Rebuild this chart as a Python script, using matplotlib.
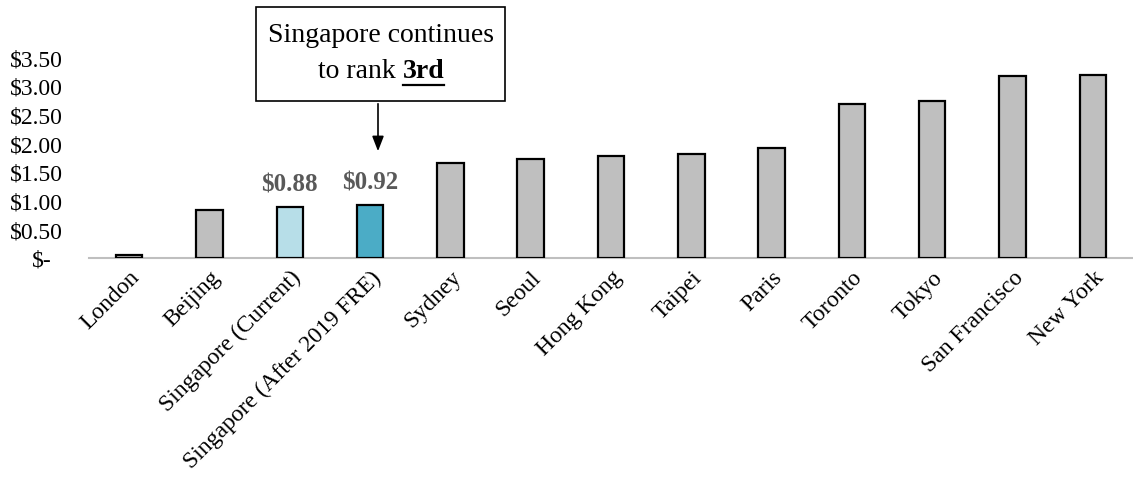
import matplotlib
matplotlib.use("Agg")
import matplotlib.pyplot as plt
import matplotlib.transforms as mtransforms
from matplotlib.patches import Rectangle
from matplotlib.ticker import FuncFormatter

cities = ["London", "Beijing", "Singapore (Current)", "Singapore (After 2019 FRE)",
          "Sydney", "Seoul", "Hong Kong", "Taipei", "Paris", "Toronto", "Tokyo",
          "San Francisco", "New York"]
fares = [0.05, 0.84, 0.88, 0.92, 1.65, 1.72, 1.78, 1.81, 1.92, 2.68, 2.73, 3.17, 3.19]
bar_colors = ["#BFBFBF", "#BFBFBF", "#B7DEE8", "#4BACC6"] + ["#BFBFBF"] * 9
labelled = {2: "$0.88", 3: "$0.92"}
yticks = [0, 0.5, 1.0, 1.5, 2.0, 2.5, 3.0, 3.5]

plt.rcParams["font.family"] = ["Liberation Serif", "DejaVu Serif"]

W, H = 1133, 485
fig = plt.figure(figsize=(W / 100, H / 100), dpi=100)
ax = fig.add_axes([89 / W, 1 - 259 / H, 1 - 89 / W, (259 - 58) / H])


def px(x, y):
    """Pixel position (from top-left) to figure fraction."""
    return x / W, 1 - y / H


x = list(range(len(cities)))
ax.bar(x, fares, width=0.33, color=bar_colors, edgecolor="black", linewidth=1.6, zorder=3)

for i, txt in labelled.items():
    ax.text(i, fares[i] + 0.2, txt, ha="center", va="bottom", fontsize=18,
            fontweight="bold", color="#595959")

ax.set_xlim(-0.5, len(cities) - 0.5)
ax.set_ylim(0, 3.5)
ax.set_yticks(yticks)
ax.yaxis.set_major_formatter(FuncFormatter(lambda v, p: "$-" if v == 0 else f"${v:.2f}"))
ax.set_xticks(x)
ax.set_xticklabels(cities, rotation=45, ha="right", rotation_mode="anchor")
ax.tick_params(axis="both", length=0, labelsize=17, colors="black")
ax.tick_params(axis="x", pad=6)
ax.tick_params(axis="y", pad=19)

# Accounting-style zero label sits a little left of the other values
fig.canvas.draw()
zero_lbl = ax.get_yticklabels()[0]
zero_lbl.set_transform(zero_lbl.get_transform() +
                       mtransforms.ScaledTranslation(-11 / 100, 0, fig.dpi_scale_trans))

for side in ["top", "right", "left"]:
    ax.spines[side].set_visible(False)
ax.spines["bottom"].set_color("#BFBFBF")
ax.spines["bottom"].set_linewidth(1.5)

# Callout box with arrow pointing to the post-FRE Singapore fare
x0, y0 = px(256, 102)
x1, y1 = px(505, 8)
fig.add_artist(Rectangle((x0, y0), x1 - x0, y1 - y0, transform=fig.transFigure,
                         facecolor="white", edgecolor="black", linewidth=1.2))
fig.text(*px(381, 36), "Singapore continues", ha="center", va="center", fontsize=20)

renderer = fig.canvas.get_renderer()
t1 = fig.text(0, 0, "to rank ", fontsize=20, va="center")
t2 = fig.text(0, 0, "3rd", fontsize=20, fontweight="bold", va="center")
w1 = t1.get_window_extent(renderer).width
w2 = t2.get_window_extent(renderer).width
start = 381 - (w1 + w2) / 2
t1.set_position(px(start, 72))
t2.set_position(px(start + w1, 72))
ux0, uy = px(start + w1, 86)
ux1, _ = px(start + w1 + w2, 86)
fig.add_artist(plt.Line2D([ux0, ux1], [uy, uy], color="black", linewidth=1.6))

ax.annotate("", xy=px(378, 155), xycoords="figure fraction",
            xytext=px(378, 102), textcoords="figure fraction",
            arrowprops=dict(arrowstyle="-|>,head_width=0.35,head_length=0.9",
                            color="black", linewidth=1.2))

fig.savefig("out.png", dpi=100)
